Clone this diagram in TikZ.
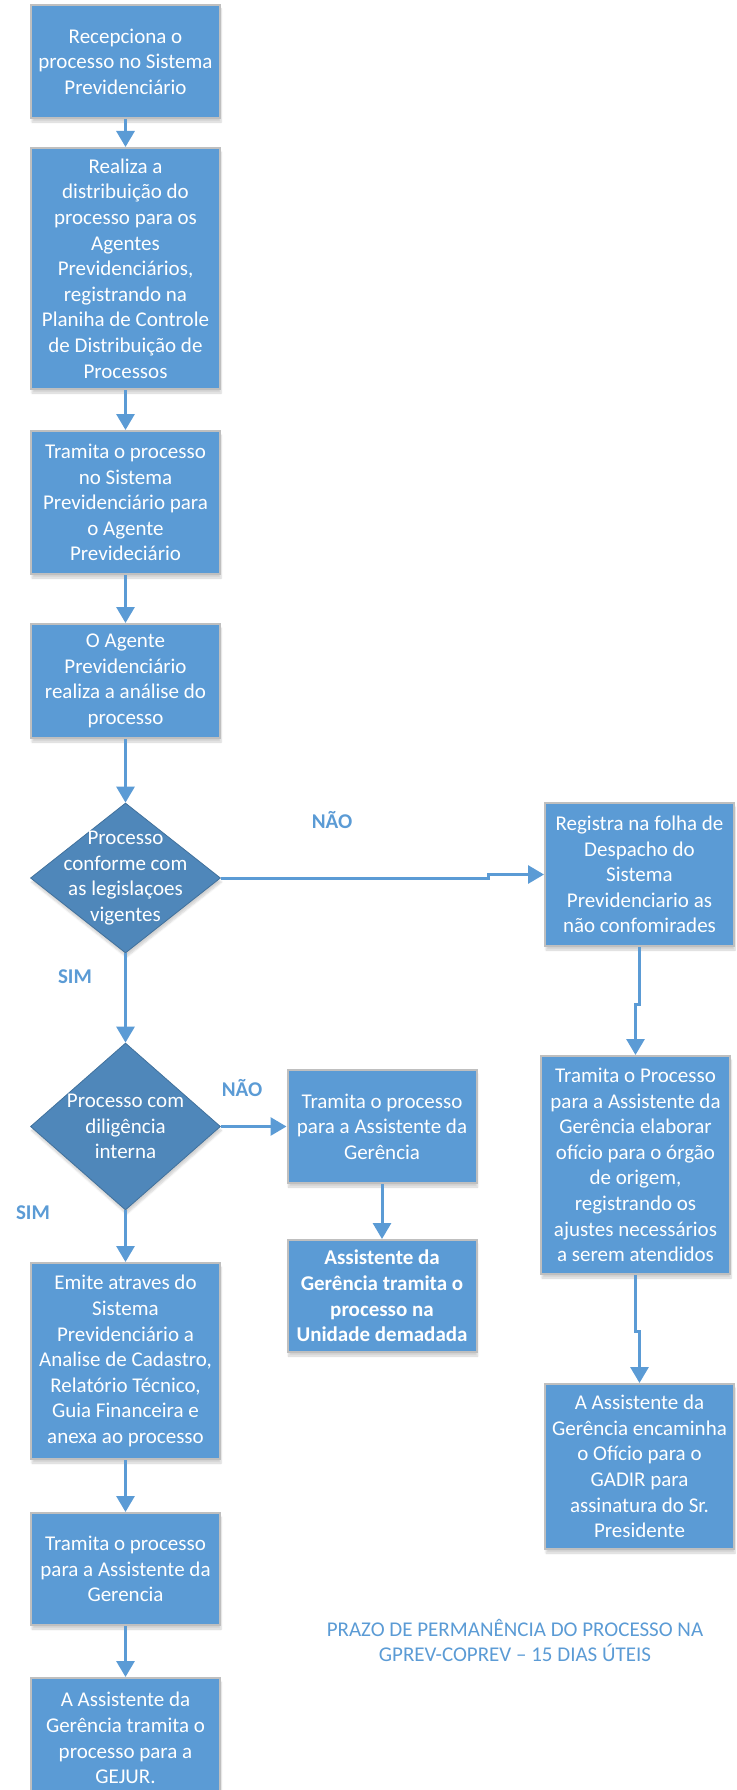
\documentclass[tikz,border=0pt]{standalone}
\usepackage{fontspec}
\setmainfont{Carlito}
\usetikzlibrary{shapes.geometric,arrows.meta,shadows.blur}

\definecolor{azul}{HTML}{5B9BD5}
\definecolor{azulescuro}{HTML}{4F87BA}
\definecolor{bordaazul}{HTML}{41719C}
\definecolor{bordacinza}{HTML}{BFBFBF}
\newcommand{\fonte}{\fontsize{21}{25.6}\selectfont}
\tikzset{
  sombra/.style={blur shadow={shadow blur steps=6, shadow xshift=1pt, shadow yshift=-4pt, shadow opacity=18}},
  caixa/.style={rectangle, draw=bordacinza, line width=2pt, fill=azul, text=white, font=\fonte,
    align=center, inner sep=2pt, minimum width=189pt, sombra},
  decisao/.style={diamond, draw=bordaazul, line width=0.8pt, fill=azulescuro, inner sep=0pt,
    minimum width=190pt, sombra},
  dentro/.style={text=white, font=\fonte, align=center},
  fluxo/.style={draw=azul, line width=3pt, -{Triangle[width=18pt,length=16pt]}},
  rotulo/.style={text=azul, font=\fonte\bfseries},
}

\begin{document}
\begin{tikzpicture}[x=1pt,y=-1pt]
\useasboundingbox (0,0) rectangle (736,1790);
\clip (0,0) rectangle (736,1790);

% coluna da esquerda
\node[caixa, minimum height=113pt] (l1) at (125.5,61.5) {Recepciona o\\processo no Sistema\\Previdenciário};
\node[caixa, minimum height=241pt] (l2) at (125.5,268.5) {Realiza a\\distribuição do\\processo para os\\Agentes\\Previdenciários,\\registrando na\\Planiha de Controle\\de Distribuição de\\Processos};
\node[caixa, minimum height=143pt] (l3) at (125.5,502.5) {Tramita o processo\\no Sistema\\Previdenciário para\\o Agente\\Prevideciário};
\node[caixa, minimum height=114pt] (l4) at (125.5,681) {O Agente\\Previdenciário\\realiza a análise do\\processo};
\node[decisao, minimum height=150pt, label={[dentro]center:{Processo\\conforme com\\as legislaçoes\\vigentes}}] (d1) at (125.5,878) {};
\node[decisao, minimum height=167pt, label={[dentro]center:{Processo com\\diligência\\interna}}] (d2) at (125.5,1126.5) {};
\node[caixa, minimum height=196pt] (l5) at (125.5,1361) {Emite atraves do\\Sistema\\Previdenciário a\\Analise de Cadastro,\\Relatório Técnico,\\Guia Financeira e\\anexa ao processo};
\node[caixa, minimum height=112pt] (l6) at (125.5,1569) {Tramita o processo\\para a Assistente da\\Gerencia};
\node[caixa, minimum height=120pt] (l7) at (125.5,1738) {A Assistente da\\Gerência tramita o\\processo para a\\GEJUR.};

% coluna do meio
\node[caixa, minimum height=113pt] (m1) at (382,1126.5) {Tramita o processo\\para a Assistente da\\Gerência};
\node[caixa, minimum height=112pt, font=\fonte\bfseries] (m2) at (382,1296) {Assistente da\\Gerência tramita o\\processo na\\Unidade demadada};

% coluna da direita
\node[caixa, minimum height=143pt] (r1) at (639.5,874.5) {Registra na folha de\\Despacho do\\Sistema\\Previdenciario as\\não confomirades};
\node[caixa, minimum height=218pt] (r2) at (635.5,1165) {Tramita o Processo\\para a Assistente da\\Gerência elaborar\\ofício para o órgão\\de origem,\\registrando os\\ajustes necessários\\a serem atendidos};
\node[caixa, minimum height=165pt] (r3) at (639.5,1466.5) {A Assistente da\\Gerência encaminha\\o Ofício para o\\GADIR para\\assinatura do Sr.\\Presidente};

% rotulos
\node[rotulo] (nao1) at (332,820) {NÃO};
\node[rotulo] (sim1) at (75,977) {SIM};
\node[rotulo] (nao2) at (242,1088) {NÃO};
\node[rotulo] (sim2) at (33,1213) {SIM};
\node[text=azul, font=\fonte, align=center] (prazo) at (515,1640.5) {PRAZO DE PERMANÊNCIA DO PROCESSO NA\\GPREV-COPREV – 15 DIAS ÚTEIS};

% setas
\draw[fluxo] (l1) -- (l2);
\draw[fluxo] (l2) -- (l3);
\draw[fluxo] (l3) -- (l4);
\draw[fluxo] (l4) -- (d1);
\draw[fluxo] (d1) -- (d2);
\draw[fluxo] (d2) -- (l5);
\draw[fluxo] (l5) -- (l6);
\draw[fluxo] (l6) -- (l7);
\draw[fluxo] (d2.east) -- (m1.west);
\draw[fluxo] (m1) -- (m2);
\draw[fluxo] (d1.east) -- ++(268,0) |- (r1.west);
\draw[fluxo] (r1.south) -- ++(0,57) -| (r2.north);
\draw[fluxo] (r2.south) -- ++(0,56) -| (r3.north);
\end{tikzpicture}
\end{document}
